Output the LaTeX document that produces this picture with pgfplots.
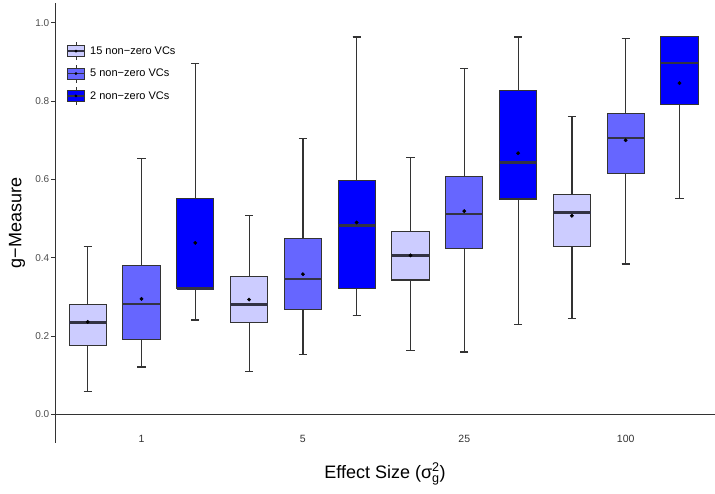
\documentclass[border=0pt]{standalone}
\usepackage{fontspec}
\setmainfont{Liberation Sans}
\usepackage{amsmath}
\usepackage{pgfplots}
\pgfplotsset{compat=1.18}
\usepgfplotslibrary{statistics}
\definecolor{lightc}{HTML}{CCCCFF}
\definecolor{medc}{HTML}{6666FF}
\definecolor{darkc}{HTML}{0000FF}
\definecolor{edgec}{HTML}{333333}
\definecolor{medianc}{HTML}{333344}
\definecolor{tickc}{HTML}{4D4D4D}
\newcommand{\bx}[7]{\addplot[forget plot, draw=edgec, line width=1.1bp, fill=#7,
  boxplot prepared={draw position=#1, lower whisker=#2, lower quartile=#3,
  median=#4, upper quartile=#5, upper whisker=#6}] coordinates {};}
\pgfplotsset{keyimg/.style={legend image code/.code={
   \draw[edgec, line width=0.9bp] (0.3cm,-9bp) -- (0.3cm,9bp);
   \draw[edgec, line width=0.9bp, fill=#1] (0cm,-5.5bp) rectangle (0.6cm,5.5bp);
   \draw[medianc, line width=1.5bp] (0cm,0bp) -- (0.6cm,0bp);
   \fill[black] (0.3cm,0bp) circle (1.2bp);}}}
\begin{document}
\begin{tikzpicture}
\useasboundingbox (-55bp,-51.3bp) rectangle (660bp,442.7bp);
\begin{axis}[
  at={(0bp,0bp)}, anchor=south west,
  scale only axis, width=660bp, height=439.7bp,
  xmin=-0.608, xmax=11.66, ymin=-0.0725, ymax=1.0506,
  axis x line*=bottom, axis y line*=left,
  axis line style={-, edgec, line width=0.9bp},
  x axis line style={draw=none},
  xtick={1,4,7,10}, xticklabels={1,5,25,100},
  xtick style={draw=none},
  ytick={0,0.2,0.4,0.6,0.8,1.0},
  ytick style={edgec, line width=0.9bp},
  tick align=outside, major tick length=4bp,
  yticklabel style={/pgf/number format/.cd, fixed, fixed zerofill, precision=1, /tikz/.cd, font=\fontsize{10bp}{12bp}\selectfont, text=tickc, inner sep=1.5bp},
  xticklabel style={font=\fontsize{10.5bp}{12bp}\selectfont, text=edgec, anchor=center, yshift=8.2bp},
  /pgf/number format/assume math mode=true,
  ylabel={g−Measure},
  ylabel style={at={(axis description cs:-0.0576,0.5)}, anchor=center, font=\fontsize{18bp}{21bp}\selectfont},
  xlabel={Effect Size (σ$_{\text{g}}^{\text{2}}$)},
  xlabel style={at={(axis description cs:0.5,0)}, anchor=base, yshift=-35.3bp, font=\fontsize{18bp}{21bp}\selectfont},
  boxplot/draw direction=y,
  boxplot/box extend=0.693,
  boxplot/whisker extend=0.15,
  boxplot/every box/.style={draw=edgec, line width=1.1bp},
  boxplot/every whisker/.style={draw=edgec, line width=1.2bp},
  boxplot/every median/.style={line width=2.6bp, draw=medianc},
  legend cell align=left,
  legend style={at={(axis description cs:0,1)}, anchor=north west, xshift=11.7bp, yshift=-38.7bp,
    draw=none, fill=none, inner sep=0pt, outer sep=0pt, row sep=3.5bp, column sep=5bp,
    font=\fontsize{11bp}{13bp}\selectfont,
    nodes={inner sep=0pt}},
  clip=false,
]
\addplot[forget plot, edgec, line width=0.9bp] coordinates {(-0.608,0) (11.66,0)};
\bx{0}{0.059}{0.175}{0.234}{0.281}{0.429}{lightc}
\bx{1}{0.121}{0.192}{0.282}{0.379}{0.653}{medc}
\bx{2}{0.241}{0.321}{0.322}{0.551}{0.896}{darkc}
\bx{3}{0.109}{0.234}{0.281}{0.351}{0.507}{lightc}
\bx{4}{0.153}{0.268}{0.346}{0.448}{0.705}{medc}
\bx{5}{0.253}{0.321}{0.483}{0.597}{0.964}{darkc}
\bx{6}{0.163}{0.343}{0.406}{0.468}{0.655}{lightc}
\bx{7}{0.159}{0.423}{0.512}{0.608}{0.884}{medc}
\bx{8}{0.229}{0.550}{0.643}{0.828}{0.964}{darkc}
\bx{9}{0.245}{0.428}{0.516}{0.562}{0.760}{lightc}
\bx{10}{0.384}{0.615}{0.706}{0.768}{0.960}{medc}
\bx{11}{0.551}{0.792}{0.897}{0.964}{0.964}{darkc}
\addplot[forget plot, only marks, mark=*, mark size=1.7bp, black] coordinates {
 (0,0.236) (1,0.295) (2,0.438) (3,0.293) (4,0.358) (5,0.490)
 (6,0.406) (7,0.519) (8,0.667) (9,0.507) (10,0.700) (11,0.846)};
\addlegendimage{keyimg=lightc}
\addlegendentry{15 non−zero VCs}
\addlegendimage{keyimg=medc}
\addlegendentry{5 non−zero VCs}
\addlegendimage{keyimg=darkc}
\addlegendentry{2 non−zero VCs}
\end{axis}
\end{tikzpicture}
\end{document}
